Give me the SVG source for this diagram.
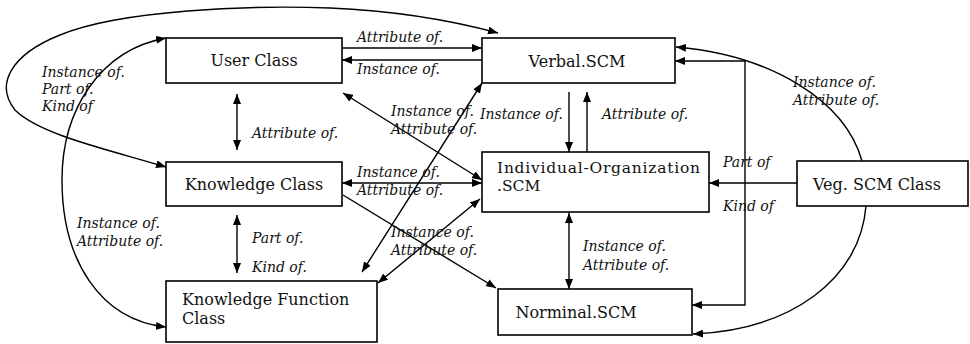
<svg xmlns="http://www.w3.org/2000/svg" width="970" height="344" viewBox="0 0 970 344">
<defs>
<marker id="ah" viewBox="0 0 10 8" refX="10" refY="4" markerWidth="10" markerHeight="8" markerUnits="userSpaceOnUse" orient="auto-start-reverse">
<path d="M0,0 L10,4 L0,8 z" fill="#000"/>
</marker>
<style>
.box{fill:#fff;stroke:#000;stroke-width:1.6}
.nt{font-family:"DejaVu Serif","Liberation Serif",serif;font-size:16px;fill:#111}
.el{font-family:"DejaVu Serif","Liberation Serif",serif;font-size:14px;font-style:italic;fill:#111}
.c{fill:none;stroke:#000;stroke-width:1.4}
.e{marker-end:url(#ah)}
.b{marker-start:url(#ah);marker-end:url(#ah)}
</style>
</defs>
<rect width="970" height="344" fill="#fff"/>

<g id="connectors">
<path class="c e" d="M342 48 L482 48"/>
<path class="c e" d="M482 60 L342 60"/>
<path class="c b" d="M166 167 C110 150, 40 135, 15 110 C-5 85, 10 55, 60 35 C120 10, 250 5, 330 8 C400 11, 450 20, 498 33"/>
<path class="c b" d="M166 38 C100 50, 62 110, 62 180 C62 260, 100 320, 166 327"/>
<path class="c b" d="M237 94 L237 150"/>
<path class="c b" d="M237 215 L237 273"/>
<path class="c b" d="M343 93 L482 180"/>
<path class="c b" d="M342 183 L482 183"/>
<path class="c e" d="M343 195 L496 288"/>
<path class="c b" d="M482 83 L362 272"/>
<path class="c b" d="M480 199 L378 283"/>
<path class="c e" d="M569 92 L569 152"/>
<path class="c e" d="M587 152 L587 92"/>
<path class="c b" d="M569 213 L569 289"/>
<path class="c e" d="M797 183 L709 183"/>
<path class="c b" d="M675 61 L745 61 L745 305 L692 305"/>
<path class="c e" d="M862 161 C845 100, 770 55, 676 47"/>
<path class="c e" d="M866 206 C860 280, 790 330, 693 334"/>
</g>

<g id="edge-labels">
<text class="el" x="357" y="42">Attribute of.</text>
<text class="el" x="357" y="74">Instance of.</text>
<text class="el" x="42" y="77">Instance of.</text>
<text class="el" x="42" y="94">Part of.</text>
<text class="el" x="42" y="111">Kind of</text>
<text class="el" x="252" y="138">Attribute of.</text>
<text class="el" x="391" y="116">Instance of.</text>
<text class="el" x="391" y="134">Attribute of.</text>
<text class="el" x="480" y="119">Instance of.</text>
<text class="el" x="602" y="119">Attribute of.</text>
<text class="el" x="357" y="177">Instance of.</text>
<text class="el" x="357" y="195">Attribute of.</text>
<text class="el" x="391" y="237">Instance of.</text>
<text class="el" x="391" y="255">Attribute of.</text>
<text class="el" x="77" y="228">Instance of.</text>
<text class="el" x="77" y="246">Attribute of.</text>
<text class="el" x="252" y="243">Part of.</text>
<text class="el" x="252" y="272">Kind of.</text>
<text class="el" x="583" y="251">Instance of.</text>
<text class="el" x="583" y="270">Attribute of.</text>
<text class="el" x="723" y="167">Part of</text>
<text class="el" x="723" y="211">Kind of</text>
<text class="el" x="793" y="87">Instance of.</text>
<text class="el" x="793" y="105">Attribute of.</text>
</g>

<g id="user-class">
<rect class="box" x="166" y="38" width="176" height="45"/>
<text class="nt" x="254" y="66" text-anchor="middle">User Class</text>
</g>
<g id="verbal-scm">
<rect class="box" x="482" y="38" width="193" height="45"/>
<text class="nt" x="577" y="67" text-anchor="middle">Verbal.SCM</text>
</g>
<g id="knowledge-class">
<rect class="box" x="166" y="162" width="176" height="44"/>
<text class="nt" x="254" y="190" text-anchor="middle">Knowledge Class</text>
</g>
<g id="knowledge-function-class">
<rect class="box" x="166" y="281" width="211" height="61"/>
<text class="nt" x="182" y="305">Knowledge Function</text>
<text class="nt" x="182" y="324">Class</text>
</g>
<g id="individual-organization-scm">
<rect class="box" x="482" y="152" width="227" height="60"/>
<text class="nt" x="497" y="173" style="font-size:15.5px" textLength="203">Individual-Organization</text>
<text class="nt" x="497" y="191" style="font-size:15.5px">.SCM</text>
</g>
<g id="norminal-scm">
<rect class="box" x="498" y="289" width="194" height="46"/>
<text class="nt" x="576" y="318" text-anchor="middle">Norminal.SCM</text>
</g>
<g id="veg-scm-class">
<rect class="box" x="797" y="161" width="171" height="45"/>
<text class="nt" x="813" y="190">Veg. SCM Class</text>
</g>
</svg>
